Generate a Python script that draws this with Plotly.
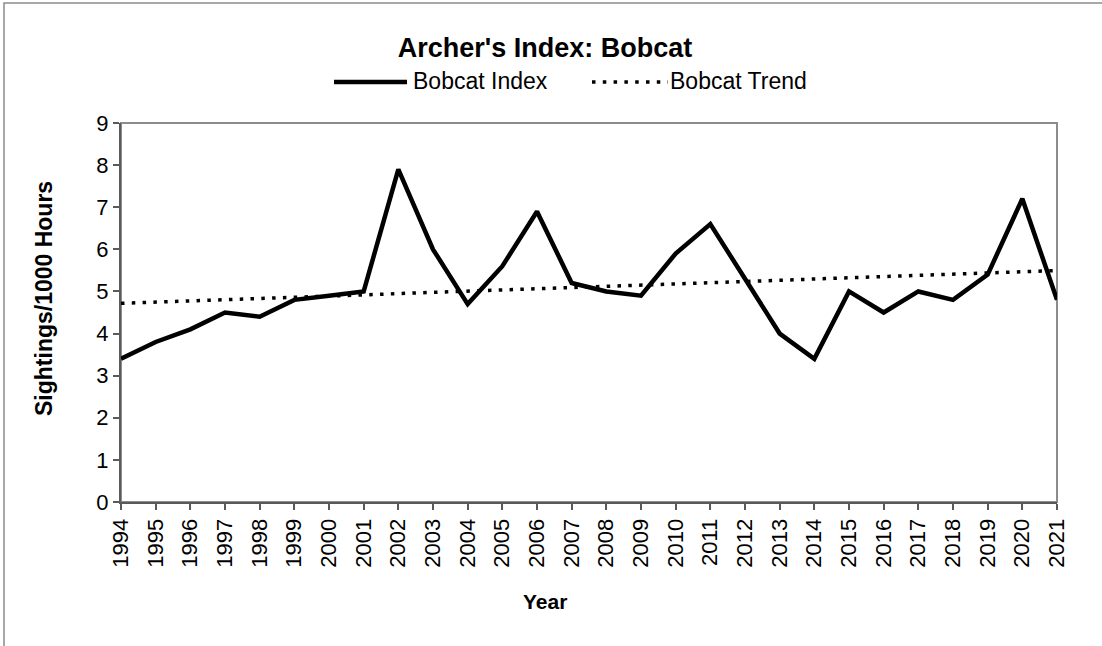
import numpy as np
import plotly.graph_objects as go

years = list(range(1994, 2022))
bobcat_index = [3.4, 3.8, 4.1, 4.5, 4.4, 4.8, 4.9, 5.0, 7.9, 6.0, 4.7, 5.6, 6.9, 5.2,
                5.0, 4.9, 5.9, 6.6, 5.3, 4.0, 3.4, 5.0, 4.5, 5.0, 4.8, 5.4, 7.2, 4.8]
series_names = ["Bobcat Index", "Bobcat Trend"]
title_text = "Archer's Index: Bobcat"
y_title = "Sightings/1000 Hours"
x_title = "Year"

# linear trendline of the index (like a spreadsheet trendline)
coef = np.polyfit(years, bobcat_index, 1)
bobcat_trend = list(np.polyval(coef, years))

W, H = 1102, 646
L, R, T, B = 121, W - 1057, 123, H - 502
pw, ph = W - L - R, H - T - B

def px_x(x):
    return (x - L) / pw

def px_y(y):
    return (H - B - y) / ph

FONT = "Arial, Liberation Sans, sans-serif"
DOT = "3.5px,7.3px"
AXC = "#5a5a5a"
FRAME = "#8c8c8c"

fig = go.Figure()
fig.add_trace(go.Scatter(x=years, y=bobcat_index, mode="lines", name=series_names[0],
                         line=dict(color="black", width=4.5), cliponaxis=False))
fig.add_trace(go.Scatter(x=years, y=bobcat_trend, mode="lines", name=series_names[1],
                         line=dict(color="black", width=3.5, dash=DOT)))

fig.update_layout(
    width=W, height=H,
    margin=dict(l=L, r=R, t=T, b=B, autoexpand=False),
    paper_bgcolor="white", plot_bgcolor="white",
    font=dict(family=FONT, color="black", size=22),
    title=dict(text=title_text, x=545 / W, xanchor="center", y=1 - 48 / H, yanchor="middle",
               font=dict(family=FONT, size=27, color="black", weight="bold")),
    showlegend=False,
    xaxis=dict(range=[1994, 2021], tickmode="array", tickvals=years,
               ticktext=[str(y) for y in years], tickangle=-90,
               showgrid=False, zeroline=False, showline=True, linecolor=AXC, linewidth=2,
               ticks="outside", ticklen=6, tickwidth=1.5, tickcolor=AXC,
               tickfont=dict(family=FONT, size=22, color="black")),
    yaxis=dict(range=[0, 9], dtick=1, tick0=0,
               showgrid=False, zeroline=False, showline=True, linecolor=AXC, linewidth=2,
               ticks="outside", ticklen=6, tickwidth=1.5, tickcolor=AXC,
               tickfont=dict(family=FONT, size=22, color="black")),
    shapes=[
        # plot area frame
        dict(type="rect", xref="paper", yref="paper", x0=0, y0=0, x1=1, y1=1,
             line=dict(color=FRAME, width=2), layer="below"),
        # chart area frame (left and top visible)
        dict(type="rect", xref="paper", yref="paper", x0=px_x(4), y0=px_y(H + 20),
             x1=px_x(W + 20), y1=px_y(3), line=dict(color=FRAME, width=1.5), layer="below"),
        # legend samples
        dict(type="line", xref="paper", yref="paper", x0=px_x(334), x1=px_x(407),
             y0=px_y(82), y1=px_y(82), line=dict(color="black", width=4.5)),
        dict(type="line", xref="paper", yref="paper", x0=px_x(592), x1=px_x(668),
             y0=px_y(82), y1=px_y(82), line=dict(color="black", width=3.5, dash=DOT)),
    ],
    annotations=[
        dict(text=series_names[0], xref="paper", yref="paper", x=px_x(411), y=px_y(81),
             xanchor="left", yanchor="middle", showarrow=False,
             font=dict(family=FONT, size=23, color="black")),
        dict(text=series_names[1], xref="paper", yref="paper", x=px_x(668), y=px_y(81),
             xanchor="left", yanchor="middle", showarrow=False,
             font=dict(family=FONT, size=23, color="black")),
        dict(text=x_title, xref="paper", yref="paper", x=px_x(545), y=px_y(601),
             xanchor="center", yanchor="middle", showarrow=False,
             font=dict(family=FONT, size=21, color="black", weight="bold")),
        dict(text=y_title, xref="paper", yref="paper", x=px_x(44), y=px_y(299), textangle=-90,
             xanchor="center", yanchor="middle", showarrow=False,
             font=dict(family=FONT, size=23, color="black", weight="bold")),
    ],
)

fig.write_html("out.html", config={"displayModeBar": False},
               post_script="document.body.style.margin='0px';")
